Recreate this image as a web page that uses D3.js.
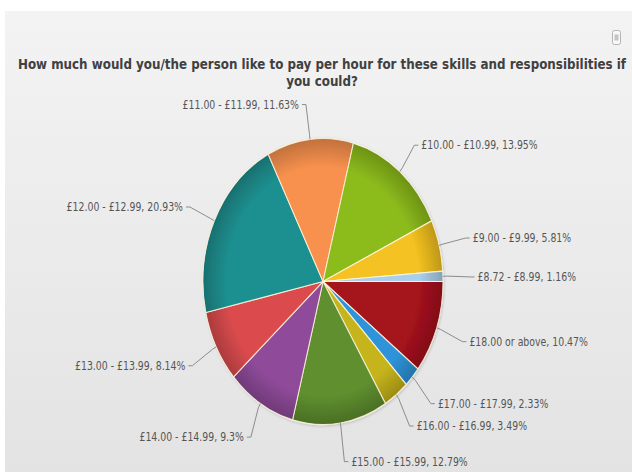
<!DOCTYPE html>
<html>
<head>
<meta charset="utf-8">
<script src="https://cdn.jsdelivr.net/npm/d3@7"></script>
<style>
  html, body { margin: 0; padding: 0; background: #fff; }
  svg { display: block; }
</style>
</head>
<body>
<svg id="chart" width="632" height="472"></svg>
<script>
// Pay-band shares, listed clockwise starting at three o'clock
const categories = [
  "£18.00 or above", "£17.00 - £17.99", "£16.00 - £16.99", "£15.00 - £15.99",
  "£14.00 - £14.99", "£13.00 - £13.99", "£12.00 - £12.99", "£11.00 - £11.99",
  "£10.00 - £10.99", "£9.00 - £9.99", "£8.72 - £8.99"
];
const percentages = [10.47, 2.33, 3.49, 12.79, 9.3, 8.14, 20.93, 11.63, 13.95, 5.81, 1.16];
const colors = [
  "#a5121e", "#2e93d8", "#c6b41c", "#5f8f2f", "#8f4b9a", "#db4c4e",
  "#1f9090", "#f8914e", "#8cbb1c", "#f4c220", "#a9d0ea"
];
const titleLines = [
  "How much would you/the person like to pay per hour for these skills and responsibilities if",
  "you could?"
];

const W = 632, H = 472;
const svg = d3.select("#chart");
const defs = svg.append("defs");

// Panel background
const bg = defs.append("linearGradient").attr("id", "bg")
  .attr("x1", 0).attr("y1", 0).attr("x2", 0).attr("y2", 1);
bg.append("stop").attr("offset", "0%").attr("stop-color", "#f3f3f3");
bg.append("stop").attr("offset", "100%").attr("stop-color", "#e3e3e3");
svg.append("rect").attr("x", 5).attr("y", 11).attr("width", W - 5).attr("height", H - 11)
  .attr("fill", "url(#bg)");

// Export menu button
svg.append("rect").attr("x", 612.5).attr("y", 30.5).attr("width", 8).attr("height", 14).attr("rx", 2)
  .attr("fill", "#f8f8f8").attr("stroke", "#b4b4b4");
svg.append("rect").attr("x", 614.5).attr("y", 34.5).attr("width", 4).attr("height", 6)
  .attr("fill", "#c4c4c4");

// Title (condensed horizontally to span the panel)
const title = svg.append("g").attr("class", "title");
const titleW = 609, titleCx = 322;
const t1 = title.append("text")
  .attr("font-family", "'DejaVu Sans', sans-serif").attr("font-weight", "bold")
  .attr("font-size", 14.5).attr("fill", "#404040").attr("text-anchor", "middle")
  .text(titleLines[0]);
const natural = t1.node().getComputedTextLength();
const tsx = titleW / natural;
t1.attr("transform", `translate(${titleCx},69) scale(${tsx},1)`);
title.append("text")
  .attr("font-family", "'DejaVu Sans', sans-serif").attr("font-weight", "bold")
  .attr("font-size", 14.5).attr("fill", "#404040").attr("text-anchor", "middle")
  .attr("transform", `translate(${titleCx},86) scale(${tsx},1)`)
  .text(titleLines[1]);

// Pie geometry (elliptical plot)
const cx = 323, cy = 281.5, rx = 120, ry = 143;
const sx = rx / ry;

const data = categories.map((c, i) => ({ category: c, value: percentages[i], color: colors[i] }));
const pie = d3.pie().value(d => d.value).sort(null)
  .startAngle(Math.PI / 2).endAngle(Math.PI / 2 + 2 * Math.PI);
const arcs = pie(data);
const arc = d3.arc().innerRadius(0).outerRadius(ry);

// Rim-darkening gradients for each slice colour
data.forEach((d, i) => {
  const g = defs.append("radialGradient").attr("id", "grad" + i)
    .attr("gradientUnits", "userSpaceOnUse").attr("cx", 0).attr("cy", 0).attr("r", ry);
  g.append("stop").attr("offset", "0%").attr("stop-color", d.color);
  g.append("stop").attr("offset", "80%").attr("stop-color", d.color);
  g.append("stop").attr("offset", "100%").attr("stop-color", d3.color(d.color).darker(0.7));
});

const shadow = defs.append("filter").attr("id", "shadow")
  .attr("x", "-20%").attr("y", "-20%").attr("width", "140%").attr("height", "140%");
shadow.append("feDropShadow").attr("dx", 1).attr("dy", 1).attr("stdDeviation", 1.5)
  .attr("flood-color", "#000").attr("flood-opacity", 0.18);

const pieG = svg.append("g")
  .attr("transform", `translate(${cx},${cy}) scale(${sx},1)`)
  .attr("filter", "url(#shadow)");
pieG.selectAll("path").data(arcs).join("path")
  .attr("d", arc)
  .attr("fill", (d, i) => `url(#grad${i})`)
  .attr("stroke", "#fff6dc").attr("stroke-opacity", 0.85)
  .attr("stroke-width", 1.2).attr("stroke-linejoin", "round");

// Data labels with elbow connectors
const labelRy = ry + 37;   // vertical reach of label rows
const labelR = ry + 33;    // horizontal reach of connector elbows
const labelsG = svg.append("g");
arcs.forEach(a => {
  const mid = (a.startAngle + a.endAngle) / 2;
  const ux = Math.sin(mid), uy = -Math.cos(mid);
  const s = ux >= 0 ? 1 : -1;
  const ex = cx + rx * ux, ey = cy + ry * uy;
  const bx = cx + (rx + 4) * ux, by = cy + (ry + 5) * uy;
  const ly = cy + 2 + labelRy * uy;
  const dy = ly - cy - 2;
  const reach = Math.sqrt(Math.max(0, labelR * labelR - dy * dy)) * sx;
  const kx = cx + s * Math.max(reach, Math.abs(ex - cx) + 4);
  labelsG.append("path")
    .attr("d", d3.line()([[kx + s * 4, ly], [kx, ly], [bx, by], [ex, ey]]))
    .attr("fill", "none").attr("stroke", "#8c8c8c").attr("stroke-width", 1);
  labelsG.append("text")
    .attr("transform", `translate(${kx + s * 7},${ly}) scale(0.78,1)`)
    .attr("dy", "0.35em")
    .attr("text-anchor", s > 0 ? "start" : "end")
    .attr("font-family", "'DejaVu Sans', sans-serif").attr("font-size", 12)
    .attr("fill", "#555555")
    .text(`${a.data.category}, ${a.data.value}%`);
});
</script>
</body>
</html>
